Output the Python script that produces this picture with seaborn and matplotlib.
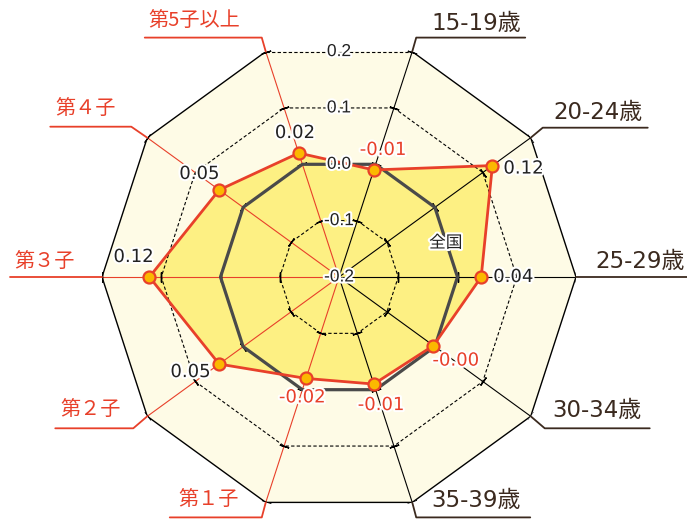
import matplotlib.pyplot as plt
import matplotlib.patheffects as pe
from matplotlib.lines import Line2D
import numpy as np
import seaborn as sns

categories = ['15-19歳', '20-24歳', '25-29歳', '30-34歳', '35-39歳',
              '第１子', '第２子', '第３子', '第４子', '第5子以上']
values = [-0.01, 0.12, 0.04, -0.003, -0.01, -0.02, 0.05, 0.12, 0.05, 0.02]
national = [0.0, 0.0, 0.0, 0.0, 0.0, 0.0, 0.0, 0.0, 0.0, 0.0]
ring_levels = [-0.2, -0.1, 0.0, 0.1, 0.2]
ring_labels = ['-0.2', '-0.1', '0.0', '0.1', '0.2']

RED = '#e8402a'
BROWN = '#3b2a1f'
CREAM = '#fefbe6'
YELLOW = '#fdf083'
ORANGE = '#fbb800'
GRAY = '#4a4a4a'
halo = [pe.withStroke(linewidth=3, foreground='white')]

sns.set_theme(style='white')
plt.rcParams['font.family'] = ['DejaVu Sans', 'Noto Sans CJK JP']

n = len(categories)
theta = np.deg2rad(np.arange(n) * 360 / n)
theta_c = np.append(theta, 2 * np.pi)
close = lambda v: np.append(v, v[0])
rmin, rmax = ring_levels[0], ring_levels[-1]

fig = plt.figure(figsize=(6.87, 5.19), dpi=100)
W, H = 687, 519
ax = fig.add_axes([102 / W, 5 / H, 474 / W, 474 / H], projection='polar')
ax.set_theta_offset(np.deg2rad(72))
ax.set_theta_direction(-1)
ax.set_ylim(rmin, rmax)
ax.grid(False)
ax.set_xticks([])
ax.set_yticks([])
ax.spines['polar'].set_visible(False)
ax.patch.set_visible(False)

# background decagon and rings
dash = (0, (3, 2))
ax.fill(theta_c, np.full(n + 1, rmax), color=CREAM, lw=0, zorder=0)
for lvl in ring_levels[1:-1]:
    ax.plot(theta_c, np.full(n + 1, lvl), color='black', lw=0.8,
            ls=dash, zorder=3)
ax.plot(theta, np.full(n, rmax), color='black', lw=1.0, zorder=3)
ax.plot([theta[-1], 2 * np.pi], [rmax, rmax], color='black', lw=0.8,
        ls=dash, zorder=3)

# spokes + ticks
for i, t in enumerate(theta):
    c = 'black' if i < 5 else RED
    ax.plot([t, t], [rmin, rmax], color=c, lw=0.8, zorder=3)
    ang = 72 - 36 * i
    ax.plot(np.full(4, t), ring_levels[1:], ls='none', color='black',
            marker=(2, 2, ang), ms=7, mew=1.0, zorder=3)

# data
ax.fill(theta_c, close(values), color=YELLOW, lw=0, zorder=2)
sns.lineplot(x=theta_c, y=close(national), sort=False, estimator=None,
             color=GRAY, lw=2.3, ax=ax, zorder=4)
sns.lineplot(x=theta_c, y=close(values), sort=False, estimator=None,
             color=RED, lw=2.0, ax=ax, zorder=5)
sns.scatterplot(x=theta, y=values, s=75, color=ORANGE, edgecolor=RED,
                linewidth=1.6, ax=ax, zorder=6)
ax.set_xlabel('')
ax.set_ylabel('')

# ring value labels on top edge
top = np.deg2rad(-18)
for lvl, lab in zip(ring_levels, ring_labels):
    r = rmin + (lvl - rmin) * np.cos(np.deg2rad(18))
    ax.text(top, r, lab, ha='center', va='center', fontsize=12.5,
            family=['Liberation Sans'], color='#222222',
            path_effects=halo, zorder=8)

# value labels
val_off = [(9, 20, 'center'), (11, -3, 'left'), (12, 0, 'left'),
           (22, -15, 'center'), (7, -21, 'center'), (-4, -19, 'center'),
           (-9, -8, 'right'), (-16, 20, 'center'), (-20, 16, 'center'),
           (-4, 20, 'center')]
for t, v, (dx, dy, ha) in zip(theta, values, val_off):
    ax.annotate(f'{v:.2f}', xy=(t, v), xytext=(dx, dy),
                textcoords='offset pixels', ha=ha, va='center',
                fontsize=13, color=RED if v < 0 else '#222222',
                path_effects=halo, zorder=9)

ax.text(np.deg2rad(54.4), -0.011, '全国', ha='center', va='center',
        fontsize=12, color='#222222', family=['Noto Sans CJK JP'],
        path_effects=halo, zorder=8)

# category labels with leader lines (pixel offsets from outer vertex)
lead = [(4, 14, 113, 64, 28), (12, 10, 117, 67, 25), (4, 0, 111, 64, 15),
        (14, -12, 119, 66, 6), (4, -15, 118, 64, 2), (-4, -15, -96, -57, 2),
        (-14, -12, -92, -57, 6), (-4, 0, -92, -57, 15), (-16, 11, -97, -62, 28),
        (-4, 14, -121, -72, 30)]
inv = fig.transFigure.inverted()
for i, (t, cat, (lx, ly, ex, tx, ty)) in enumerate(zip(theta, categories, lead)):
    vx, vy = ax.transData.transform((t, rmax))
    pts = inv.transform([(vx, vy), (vx + lx, vy + ly), (vx + ex, vy + ly)])
    c = BROWN if i < 5 else RED
    fig.add_artist(Line2D(pts[:, 0], pts[:, 1], color=c, lw=1.3,
                          transform=fig.transFigure))
    tp = inv.transform((vx + tx, vy + ty))
    if i < 5:
        fig.text(tp[0], tp[1], cat, ha='center', va='center', fontsize=16.5,
                 color=c)
    else:
        fig.text(tp[0], tp[1], cat, ha='center', va='center', fontsize=14.5,
                 color=c, family=['Noto Sans CJK JP', 'DejaVu Sans'])

fig.savefig('out.png', dpi=100)
